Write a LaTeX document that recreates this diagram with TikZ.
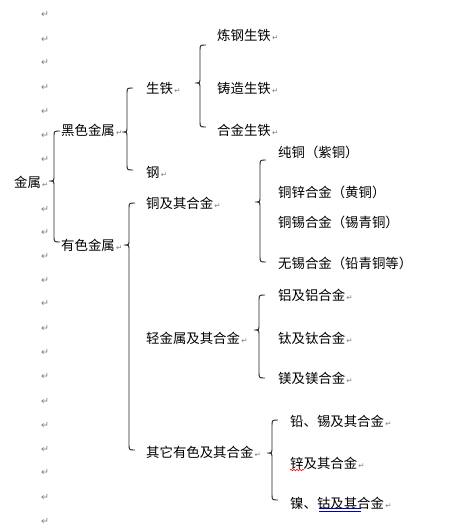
\documentclass[tikz,border=0pt]{standalone}
\usepackage{fontspec}
\setmainfont{Noto Sans CJK SC}
\newfontfamily\symf{DejaVu Sans}
\usetikzlibrary{decorations.pathmorphing}
\newcommand\pmk{{\symf\color{gray}\fontsize{7.5}{7.5}\selectfont\,↵}}
\newcommand\mybrace[4]{%
  \draw[bracestyle] (#1+6,#2) .. controls (#1,#2) .. (#1,#2+6) -- (#1,#3-5)
    .. controls (#1,#3) .. (#1-5,#3) .. controls (#1,#3) .. (#1,#3+5)
    -- (#1,#4-6) .. controls (#1,#4) .. (#1+6,#4);}
\begin{document}
\begin{tikzpicture}[x=1pt,y=-1pt,
  bracestyle/.style={draw=black!85, line width=0.9pt},
  lbl/.style={anchor=west, inner sep=0pt, font=\fontsize{13.4}{13.4}\selectfont},
  pmark/.style={inner sep=0pt, text=gray, font=\symf\fontsize{9.5}{9.5}\selectfont}]
\useasboundingbox[fill=white] (0,0) rectangle (451,530);
% left column paragraph marks
\foreach \y [count=\i] in {15,40,63,88,112,136,160,210,233,257,281,304,329,353,377,402,426,450,473,498,522}
  \node[pmark] (pm\i) at (45,\y) {↵};
% labels
\node[lbl] (jinshu) at (14,182) {金属\pmk};
\node[lbl] (heise) at (61,130) {黑色金属\pmk};
\node[lbl] (youse) at (61,245) {有色金属\pmk};
\node[lbl] (shengtie) at (146,88) {生铁\pmk};
\node[lbl] (gang) at (146,172) {钢\pmk};
\node[lbl] (liangang) at (217,35) {炼钢生铁\pmk};
\node[lbl] (zhuzao) at (217,88) {铸造生铁\pmk};
\node[lbl] (hejin) at (217,130) {合金生铁\pmk};
\node[lbl] (tong) at (146,203) {铜及其合金\pmk};
\node[lbl] (qing) at (146,338) {轻金属及其合金\pmk};
\node[lbl] (qita) at (146,452) {其它有色及其合金\pmk};
\node[lbl] (chuntong) at (278,152) {纯铜（紫铜）};
\node[lbl] (huangtong) at (278,192) {铜锌合金（黄铜）};
\node[lbl] (xiqing) at (278,222) {铜锡合金（锡青铜）};
\node[lbl] (qianqing) at (278,263) {无锡合金（铅青铜等）};
\node[lbl] (lv) at (278,295) {铝及铝合金\pmk};
\node[lbl] (tai) at (278,338) {钛及钛合金\pmk};
\node[lbl] (mei) at (278,378) {镁及镁合金\pmk};
\node[lbl] (qian) at (290,421) {铅、锡及其合金\pmk};
\node[lbl] (xin) at (290,463) {锌及其合金\pmk};
\node[lbl] (nie) at (290,503) {镍、钴及其合金\pmk};
% braces
\mybrace{54}{131}{181}{242}
\mybrace{127}{88}{132}{170}
\mybrace{200}{45}{83}{127}
\mybrace{129}{203}{245}{450}
\mybrace{260}{160}{202}{262}
\mybrace{259}{295}{330}{378}
\mybrace{272}{420}{453}{500}
% proofing underlines
\draw[red, line width=0.6pt, decorate, decoration={snake, amplitude=0.8pt, segment length=3pt}] (290,470) -- (304,470);
\draw[blue!70!black, line width=0.6pt] (319,508.5) -- (361,508.5) (319,511) -- (361,511);
\end{tikzpicture}
\end{document}
